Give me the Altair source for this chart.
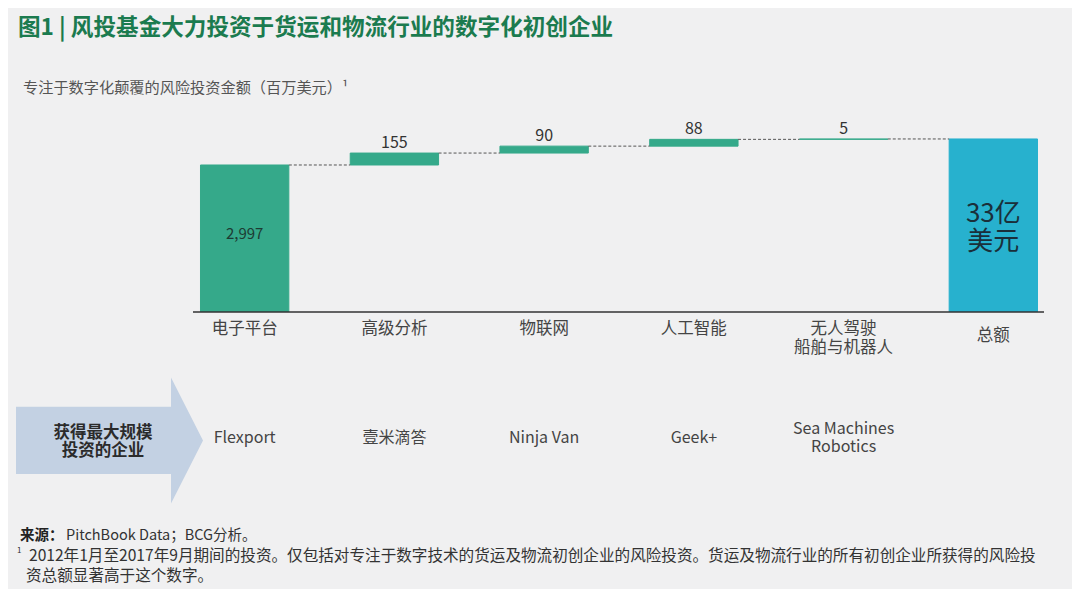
import altair as alt
import pandas as pd

# ---- data ----
categories = ["电子平台", "高级分析", "物联网", "人工智能", "无人驾驶\n船舶与机器人", "总额"]
values = [2997, 155, 90, 88, 5]
total_value = 3335
value_labels = ["2,997", "155", "90", "88", "5"]
total_label = "33亿\n美元"
companies = ["Flexport", "壹米滴答", "Ninja Van", "Geek+", "Sea Machines\nRobotics"]

title_text = "图1 | 风投基金大力投资于货运和物流行业的数字化初创企业"
subtitle_text = "专注于数字化颠覆的风险投资金额（百万美元）¹"
arrow_text = "获得最大规模\n投资的企业"
source_bold = "来源："
source_text = "PitchBook Data；BCG分析。"
note_line1 = "2012年1月至2017年9月期间的投资。仅包括对专注于数字技术的货运及物流初创企业的风险投资。货运及物流行业的所有初创企业所获得的风险投"
note_line2 = "资总额显著高于这个数字。"

# ---- derived tables ----
rows = []
cum = 0
for i, v in enumerate(values):
    start = 0 if i == 0 else cum
    cum += v
    rows.append({"cat": categories[i], "start": start, "end": cum,
                 "kind": "step", "label": value_labels[i]})
rows.append({"cat": categories[-1], "start": 0, "end": total_value,
             "kind": "total", "label": total_label})
bars_df = pd.DataFrame(rows)

conn_df = pd.DataFrame([
    {"cat": categories[i], "next": categories[i + 1], "y": rows[i]["end"]}
    for i in range(len(values))
])
comp_df = pd.DataFrame({"cat": categories[:len(companies)], "company": companies})
comp_df["multi"] = comp_df["company"].str.contains("\n")
one = pd.DataFrame({"a": [0]})

FONT = "Noto Sans CJK SC"
W, H = 852, 212

xenc = alt.X("cat:N", sort=categories,
             scale=alt.Scale(paddingInner=0.41, paddingOuter=0.05), axis=None)
yscale = alt.Scale(domain=[1088, 3841], nice=False, zero=False, clamp=True)

bars = alt.Chart(bars_df).mark_bar(clip=True, strokeWidth=1).encode(
    x=xenc,
    y=alt.Y("start:Q", scale=yscale, axis=None),
    y2="end:Q",
    color=alt.Color("kind:N", scale=alt.Scale(domain=["step", "total"],
                                              range=["#35a98a", "#27b1ce"]), legend=None),
    stroke=alt.Stroke("kind:N", scale=alt.Scale(domain=["step", "total"],
                                                range=["#35a98a", "#27b1ce"]), legend=None),
)

connectors = alt.Chart(conn_df).mark_rule(color="#555555", strokeDash=[3, 2], strokeWidth=1).encode(
    x=alt.X("cat:N", sort=categories, bandPosition=1, axis=None),
    x2=alt.X2("next:N", bandPosition=0),
    y=alt.Y("y:Q", scale=yscale, axis=None),
)

step_labels = alt.Chart(bars_df).transform_filter(
    (alt.datum.kind == "step") & (alt.datum.start > 0)
).mark_text(font=FONT, fontSize=16, color="#333333", baseline="middle", dy=-10).encode(
    x=xenc, y=alt.Y("end:Q", scale=yscale, axis=None), text="label:N"
)

first_label = alt.Chart(bars_df).transform_filter(
    (alt.datum.kind == "step") & (alt.datum.start == 0)
).mark_text(font=FONT, fontSize=15, color="#1d3b33", baseline="middle").encode(
    x=xenc, y=alt.value(134), text="label:N"
)

total_lbl = alt.Chart(bars_df).transform_filter(alt.datum.kind == "total").mark_text(
    font=FONT, fontSize=26, color="#1a2f3a", baseline="middle", lineBreak="\n", lineHeight=28.5
).encode(x=xenc, y=alt.value(113.5), text="label:N")

axis_line = alt.Chart(one).mark_rule(color="#333333", strokeWidth=1.5).encode(
    x=alt.value(0), x2=alt.value(851), y=alt.value(H)
)

cat_df = pd.DataFrame({"cat": categories})
cat_labels = alt.Chart(cat_df).transform_filter(alt.datum.cat != "总额").mark_text(
    font=FONT, fontSize=16.5, color="#444444", baseline="middle", lineBreak="\n", lineHeight=18.5
).encode(x=xenc, y=alt.value(229.3), text="cat:N")

total_cat = alt.Chart(cat_df).transform_filter(alt.datum.cat == "总额").mark_text(
    font=FONT, fontSize=16.5, color="#444444", baseline="middle"
).encode(x=xenc, y=alt.value(236), text="cat:N")

comp_single = alt.Chart(comp_df).transform_filter(alt.datum.multi == False).mark_text(
    font=FONT, fontSize=16, color="#444444", baseline="middle"
).encode(x=xenc, y=alt.value(338), text="company:N")

comp_multi = alt.Chart(comp_df).transform_filter(alt.datum.multi == True).mark_text(
    font=FONT, fontSize=16, color="#444444", baseline="middle", lineBreak="\n", lineHeight=18.5
).encode(x=xenc, y=alt.value(328.7), text="company:N")

arrow_path = "M -1 -0.36 L 0.658 -0.36 L 0.658 -0.674 L 1 0 L 0.658 0.674 L 0.658 0.36 L -1 0.36 Z"
arrow = alt.Chart(one).mark_point(shape=arrow_path, size=187 * 187, filled=True,
                                  color="#c3d1e3", opacity=1, strokeWidth=0).encode(
    x=alt.value(-83.5), y=alt.value(340.4)
)
arrow_lbl = alt.Chart(one).mark_text(
    text=arrow_text, font=FONT, fontSize=16.5, fontWeight="bold", color="#2b2b2b",
    baseline="middle", lineBreak="\n", lineHeight=18
).encode(x=alt.value(-90), y=alt.value(333))

title = alt.Chart(one).mark_text(
    text=title_text, font=FONT, fontSize=22.6, fontWeight="bold", color="#1b7b4f",
    align="left", baseline="middle"
).encode(x=alt.value(-175), y=alt.value(-72))

subtitle = alt.Chart(one).mark_text(
    text=subtitle_text, font=FONT, fontSize=15.2, color="#555555",
    align="left", baseline="middle"
).encode(x=alt.value(-170), y=alt.value(-12))

src_b = alt.Chart(one).mark_text(
    text=source_bold, font=FONT, fontSize=14.5, fontWeight="bold", color="#222222",
    align="left", baseline="middle"
).encode(x=alt.value(-173), y=alt.value(435.7))
src_t = alt.Chart(one).mark_text(
    text=source_text, font=FONT, fontSize=14.5, color="#333333",
    align="left", baseline="middle"
).encode(x=alt.value(-127), y=alt.value(435.7))
sup = alt.Chart(one).mark_text(
    text="1", font=FONT, fontSize=8, color="#333333", align="left", baseline="middle"
).encode(x=alt.value(-176), y=alt.value(451))
note1 = alt.Chart(one).mark_text(
    text=note_line1, font=FONT, fontSize=15.6, color="#333333", align="left", baseline="middle"
).encode(x=alt.value(-164), y=alt.value(455.7))
note2 = alt.Chart(one).mark_text(
    text=note_line2, font=FONT, fontSize=15.6, color="#333333", align="left", baseline="middle"
).encode(x=alt.value(-167), y=alt.value(475.7))

chart = alt.layer(
    arrow, bars, connectors, axis_line, step_labels, first_label, total_lbl,
    cat_labels, total_cat, comp_single, comp_multi, arrow_lbl, title, subtitle,
    src_b, src_t, sup, note1, note2
).properties(
    width=W, height=H,
    autosize=alt.AutoSizeParams(type="none"),
    padding={"left": 185, "top": 92, "right": 27, "bottom": 277},
    background="#f0f0f1",
).configure(font=FONT).configure_view(stroke=None)

chart.save("out.html", embed_options={"renderer": "svg", "actions": False})
